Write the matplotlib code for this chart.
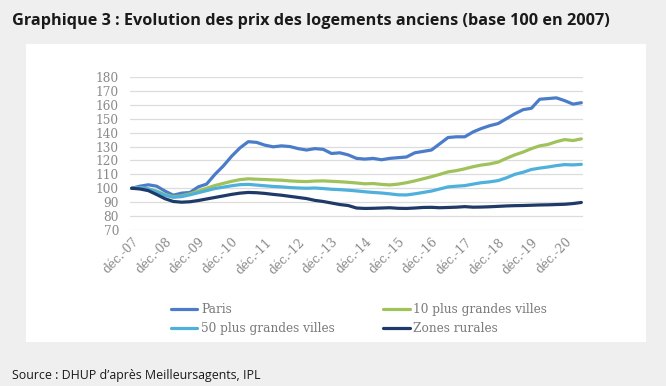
import matplotlib
matplotlib.use("Agg")
import matplotlib.pyplot as plt
from matplotlib.patches import Rectangle
import numpy as np

# time in years since déc.-07, quarterly
t = np.arange(0, 13.51, 0.25)

paris = [100, 101.5, 102.5, 101.5, 98, 95, 96.5, 97, 101, 103, 110, 116, 123, 129, 133.5, 133,
         131, 129.8, 130.5, 130, 128.5, 127.5, 128.5, 128, 125, 125.5, 124, 121.5, 121, 121.5,
         120.5, 121.5, 122, 122.5, 125.5, 126.5, 127.5, 132, 136.5, 137, 137, 140.5, 143, 145,
         146.5, 150, 153.5, 156.5, 157.5, 164, 164.5, 165, 163, 160.5, 161.5]
villes10 = [100, 100.5, 99.5, 98, 95.5, 94, 94.5, 96, 98, 100, 102, 103.5, 105, 106.2, 106.8,
            106.5, 106.3, 106, 105.8, 105.3, 105, 104.8, 105.2, 105.3, 105, 104.7, 104.3, 103.8,
            103.2, 103.4, 102.8, 102.4, 103, 104, 105.3, 106.8, 108.3, 110, 111.8, 112.7, 114,
            115.5, 116.7, 117.5, 118.8, 121.5, 124, 126, 128.5, 130.5, 131.5, 133.5, 135, 134.3, 135.5]
villes50 = [100, 100.5, 99.5, 97.5, 95, 93.5, 94, 95.3, 96.8, 98.3, 99.8, 100.8, 101.8, 102.6,
            102.8, 102.3, 101.8, 101.3, 101, 100.5, 100.2, 100, 100.2, 99.8, 99.3, 99, 98.6, 98.1,
            97.5, 97, 96.6, 96, 95.3, 95.2, 96, 97, 98, 99.5, 101, 101.5, 101.9, 103, 104, 104.6,
            105.5, 107.5, 110, 111.5, 113.5, 114.5, 115.3, 116.3, 117, 116.8, 117.2]
rurales = [100, 99.5, 98.3, 95.5, 92.5, 90.5, 90, 90.3, 91.2, 92.3, 93.4, 94.5, 95.6, 96.5, 97,
           96.8, 96.3, 95.6, 95, 94.2, 93.4, 92.6, 91.3, 90.5, 89.4, 88.3, 87.6, 85.8, 85.5, 85.6,
           85.8, 86, 85.6, 85.5, 85.8, 86.2, 86.3, 86, 86.2, 86.4, 86.8, 86.4, 86.5, 86.7, 87,
           87.3, 87.5, 87.6, 87.8, 88, 88.1, 88.3, 88.5, 89, 89.8]

tick_labels = ["déc.-07", "déc.-08", "déc.-09", "déc.-10", "déc.-11", "déc.-12", "déc.-13",
               "déc.-14", "déc.-15", "déc.-16", "déc.-17", "déc.-18", "déc.-19", "déc.-20"]
yticks = [70, 80, 90, 100, 110, 120, 130, 140, 150, 160, 170, 180]

series = [("Paris", paris, "#4a7cc9"),
          ("10 plus grandes villes", villes10, "#9fc25a"),
          ("50 plus grandes villes", villes50, "#4fb0dc"),
          ("Zones rurales", rurales, "#1f3a68")]

fig = plt.figure(figsize=(6.66, 3.86), dpi=100)
fig.patch.set_facecolor("#efefef")
fig.patches.append(Rectangle((26/666, 1-342/386), 620/666, 298/386, transform=fig.transFigure,
                             facecolor="white", edgecolor="none", zorder=-5))

ax = fig.add_axes([130/666, 1-230/386, 453/666, 153/386])
ax.set_zorder(3)
ax.set_facecolor("none")
handles = {}
for name, vals, col in series:
    handles[name], = ax.plot(t, vals, color=col, lw=2.3, label=name, solid_capstyle="round")

ax.set_xlim(-0.05, 13.55)
ax.set_ylim(70, 180)
ax.set_yticks(yticks)
ax.grid(axis="y", color="#dcdcdc", lw=0.9)
ax.set_axisbelow(True)
for s in ax.spines.values():
    s.set_visible(False)
ax.set_xticks(np.arange(len(tick_labels)))
ax.set_xticklabels(tick_labels, rotation=45, ha="right", rotation_mode="anchor")
ax.tick_params(axis="both", length=0, colors="#8a8a8a", labelsize=8.7)
for lab in ax.get_xticklabels() + ax.get_yticklabels():
    lab.set_family("DejaVu Serif")
ax.tick_params(axis="y", pad=8)
ax.tick_params(axis="x", pad=4)

order = ["Paris", "50 plus grandes villes", "10 plus grandes villes", "Zones rurales"]
leg = fig.legend([handles[n] for n in order], order, loc="upper left",
                 bbox_to_anchor=(160/666, 1-292/386), ncol=2, frameon=False,
                 prop={"family": "DejaVu Serif", "size": 8.7}, handlelength=2.2,
                 columnspacing=4.0, handletextpad=0.3, labelspacing=0.5)
leg.set_zorder(4)
for txt in leg.get_texts():
    txt.set_color("#7a7a7a")

fig.text(12/666, 1-21/386, "Graphique 3 : Evolution des prix des logements anciens (base 100 en 2007)",
         fontsize=11.7, fontweight="bold", family="Open Sans", color="#1a1a1a", va="center")
fig.text(12/666, 1-376/386, "Source : DHUP d\u2019après Meilleursagents, IPL",
         fontsize=8.9, family="Open Sans", color="#1a1a1a", va="center")

fig.savefig("out.png", dpi=100, facecolor=fig.get_facecolor())
